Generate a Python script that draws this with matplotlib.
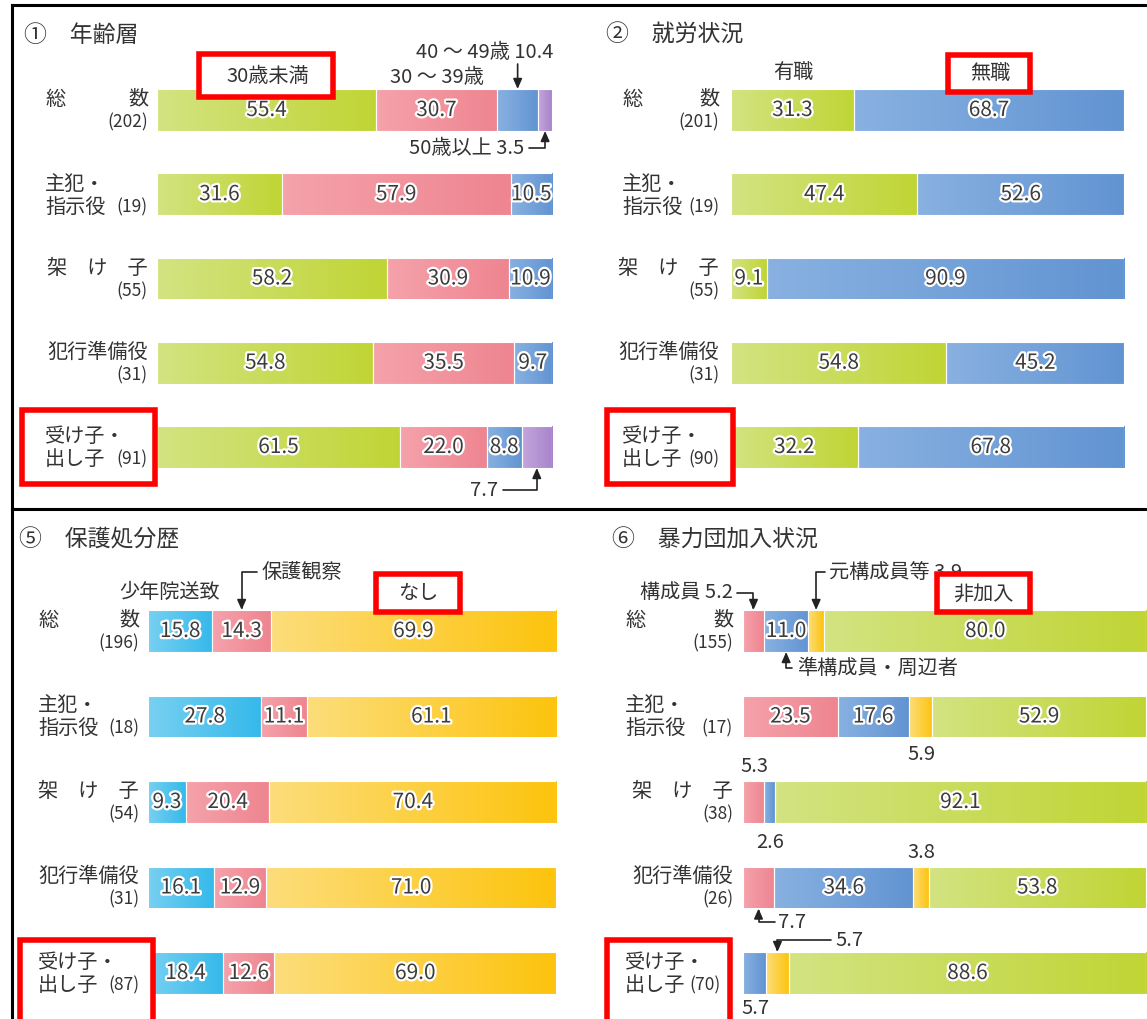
import matplotlib
matplotlib.use('Agg')
import numpy as np
import matplotlib.pyplot as plt
import matplotlib.patheffects as pe
from matplotlib.patches import Rectangle
from matplotlib.colors import LinearSegmentedColormap
from matplotlib.transforms import blended_transform_factory

plt.rcParams['font.family'] = ['Noto Sans CJK JP', 'DejaVu Sans']

# ---------------- data ----------------
rows_line1 = ['総', '主犯・', '架　け　子', '犯行準備役', '受け子・']
rows_line2 = ['', '指示役', '', '', '出し子']

age_n = [202, 19, 55, 31, 91]
age_u30 = [55.4, 31.6, 58.2, 54.8, 61.5]
age_30s = [30.7, 57.9, 30.9, 35.5, 22.0]
age_40s = [10.4, 10.5, 10.9, 9.7, 8.8]
age_50p = [3.5, 0, 0, 0, 7.7]
age_cats = ['30歳未満', '30 ～ 39歳', '40 ～ 49歳', '50歳以上']

job_n = [201, 19, 55, 31, 90]
job_yes = [31.3, 47.4, 9.1, 54.8, 32.2]
job_no = [68.7, 52.6, 90.9, 45.2, 67.8]
job_cats = ['有職', '無職']

prot_n = [196, 18, 54, 31, 87]
prot_in = [15.8, 27.8, 9.3, 16.1, 18.4]
prot_obs = [14.3, 11.1, 20.4, 12.9, 12.6]
prot_none = [69.9, 61.1, 70.4, 71.0, 69.0]
prot_cats = ['少年院送致', '保護観察', 'なし']

gang_n = [155, 17, 38, 26, 70]
gang_mem = [5.2, 23.5, 5.3, 7.7, 0]
gang_assoc = [11.0, 17.6, 2.6, 34.6, 5.7]
gang_former = [3.9, 5.9, 0, 3.8, 5.7]
gang_none = [80.0, 52.9, 92.1, 53.8, 88.6]
gang_cats = ['構成員', '準構成員・周辺者', '元構成員等', '非加入']

titles = ['①　年齢層', '②　就労状況', '⑤　保護処分歴', '⑥　暴力団加入状況']

# (light, dark) gradient pairs
GREEN = ('#d3e381', '#c0d535')
PINK = ('#f5a2ab', '#ee8590')
BLUE = ('#88b1e1', '#6294d2')
PURPLE = ('#c4a5dc', '#a985cb')
CYAN = ('#78d0f1', '#35b9ea')
YELLOW = ('#fddd7a', '#fcc40e')
TXT = '#333333'
VAL = '#3c3c3c'

W, H = 1147, 1019
fig = plt.figure(figsize=(W / 100, H / 100), dpi=100)

ov = fig.add_axes([0, 0, 1, 1])
ov.set_xlim(0, W)
ov.set_ylim(H, 0)
ov.axis('off')
ov.set_zorder(10)

halo = [pe.withStroke(linewidth=3.2, foreground='white')]
LFS = 14.5   # row label font size
NFS = 12.5   # count font size
AFS = 14.5   # annotation font size
grad = np.linspace(0, 1, 64).reshape(1, -1)


def bar_axes(x0, x1, yc0, sp):
    top = yc0 - sp / 2
    h = 5 * sp
    ax = fig.add_axes([x0 / W, 1 - (top + h) / H, (x1 - x0) / W, h / H])
    ax.axis('off')
    return ax


def draw_panel(ax, series, colors, bh, outside):
    n = len(series[0])
    lefts = [0.0] * n
    for s, (vals, col) in enumerate(zip(series, colors)):
        cmap = LinearSegmentedColormap.from_list('g', list(col))
        bars = ax.barh(range(n), vals, left=lefts, height=bh, color=col[1],
                       edgecolor='white', linewidth=0.8, zorder=2)
        for p in bars:
            if p.get_width() <= 0:
                continue
            x0, y0 = p.get_x(), p.get_y()
            im = ax.imshow(grad, cmap=cmap, aspect='auto', zorder=2.5,
                           extent=[x0, x0 + p.get_width(), y0 + p.get_height(), y0],
                           interpolation='bilinear')
            im.set_clip_path(p)
            p.set_facecolor('none')
            p.set_zorder(2.6)
        for i, v in enumerate(vals):
            if v > 0 and (i, s) not in outside:
                ax.text(lefts[i] + v / 2, i, f'{v:.1f}', ha='center', va='center',
                        fontsize=15, color=VAL, path_effects=halo, zorder=4)
        lefts = [l + v for l, v in zip(lefts, vals)]
    ax.set_xlim(0, 100)
    ax.set_ylim(4.5, -0.5)


def mid(series, i, s):
    return sum(series[k][i] for k in range(s)) + series[s][i] / 2


def label_block(xl, xr, yc, i, n, z=2):
    y1, y2 = yc - 11, yc + 12
    if i == 0:
        ov.text(xl, y1, '総', ha='left', va='center', fontsize=LFS, color=TXT, zorder=z)
        ov.text(xr, y1, '数', ha='right', va='center', fontsize=LFS, color=TXT, zorder=z)
    elif rows_line2[i]:
        ov.text(xl, y1, rows_line1[i], ha='left', va='center', fontsize=LFS, color=TXT, zorder=z)
    else:
        ov.text(xr, y1, rows_line1[i], ha='right', va='center', fontsize=LFS, color=TXT, zorder=z)
    if rows_line2[i]:
        ov.text(xl, y2, rows_line2[i], ha='left', va='center', fontsize=LFS, color=TXT, zorder=z)
    ov.text(xr, y2, f'({n})', ha='right', va='center', fontsize=NFS, color=TXT, zorder=z)


def row_labels(xl, xr, centers, ns):
    for i, yc in enumerate(centers):
        label_block(xl, xr, yc, i, ns[i], z=4)


ARW = dict(arrowstyle='-|>,head_length=0.5,head_width=0.22', color='#222222',
           lw=1.2, shrinkA=0, shrinkB=0, mutation_scale=12)


def bent(ax, start, xval, row, side, bh):
    ytip = row - bh / 2 if side == 'top' else row + bh / 2
    ov.annotate('', xy=(xval, ytip), xycoords=ax.transData,
                xytext=start, textcoords=ov.transData,
                arrowprops=dict(ARW, connectionstyle='angle,angleA=0,angleB=90,rad=0'))


def ann(x, y, s, ha='center', z=2):
    ov.text(x, y, s, ha=ha, va='center', fontsize=AFS, color=TXT, zorder=z)


def redbox(x0, y0, x1, y1):
    ov.add_patch(Rectangle((x0, y0), x1 - x0, y1 - y0, facecolor='white',
                           edgecolor='#ff0000', linewidth=4, zorder=3))


# ---------- borders ----------
ov.plot([12, 12], [5, H], color='black', lw=2.2)
ov.plot([12, W], [5, 5], color='black', lw=2.2)
ov.plot([12, W], [509, 509], color='black', lw=2.2)

top_c = [110, 195, 279, 363, 447]
bot_c = [631, 716, 802, 887, 973]
bh_t = 42 / 84.25
bh_b = 42 / 85.5

# ---------- panel 1: age ----------
ax1 = bar_axes(157, 552, 110, 84.25)
s1 = [age_u30, age_30s, age_40s, age_50p]
draw_panel(ax1, s1, [GREEN, PINK, BLUE, PURPLE], bh_t, {(0, 2), (0, 3), (4, 3)})
ov.text(24, 35, titles[0], ha='left', va='center', fontsize=16.5, color=TXT)
redbox(22, 410, 155, 484)
row_labels(45, 148, top_c, age_n)
redbox(199, 54, 333, 97)
ann(268, 76, age_cats[0], z=4)
ann(437, 77, age_cats[1])
ann(553, 52, f'{age_cats[2]} {age_40s[0]}', ha='right')
ov.annotate('', xy=(mid(s1, 0, 2), 0 - bh_t / 2), xycoords=ax1.transData,
            xytext=(mid(s1, 0, 2), 64),
            textcoords=blended_transform_factory(ax1.transData, ov.transData),
            arrowprops=ARW)
ann(524, 148, f'{age_cats[3]} {age_50p[0]}', ha='right')
bent(ax1, (529, 148), mid(s1, 0, 3), 0, 'bottom', bh_t)
ann(498, 490, f'{age_50p[4]}', ha='right')
bent(ax1, (503, 490), mid(s1, 4, 3), 4, 'bottom', bh_t)

# ---------- panel 2: employment ----------
ax2 = bar_axes(731, 1124, 110, 84.25)
s2 = [job_yes, job_no]
draw_panel(ax2, s2, [GREEN, BLUE], bh_t, set())
ov.text(606, 35, titles[1], ha='left', va='center', fontsize=16.5, color=TXT)
redbox(607, 410, 733, 484)
row_labels(622, 719, top_c, job_n)
ann(793, 72, job_cats[0])
redbox(948, 55, 1030, 92)
ann(990, 73, job_cats[1], z=4)

# ---------- panel 5: protection ----------
ax3 = bar_axes(148, 556, 631, 85.5)
s3 = [prot_in, prot_obs, prot_none]
draw_panel(ax3, s3, [CYAN, PINK, YELLOW], bh_b, set())
ov.text(19, 540, titles[2], ha='left', va='center', fontsize=16.5, color=TXT)
redbox(20, 940, 153, 1030)
row_labels(38, 139, bot_c, prot_n)
ann(170, 592, prot_cats[0])
ann(262, 572, prot_cats[1], ha='left')
bent(ax3, (257, 572), mid(s3, 0, 1), 0, 'top', bh_b)
redbox(376, 574, 460, 612)
ann(418, 594, prot_cats[2], z=4)

# ---------- panel 6: gang ----------
ax4 = bar_axes(743, 1146, 631, 85.5)
s4 = [gang_mem, gang_assoc, gang_former, gang_none]
out4 = {(0, 0), (0, 2), (1, 2), (2, 0), (2, 1), (3, 0), (3, 2), (4, 1), (4, 2)}
draw_panel(ax4, s4, [PINK, BLUE, YELLOW, GREEN], bh_b, out4)
ov.text(612, 540, titles[3], ha='left', va='center', fontsize=16.5, color=TXT)
redbox(607, 940, 730, 1030)
row_labels(625, 733, bot_c[:4], gang_n[:4])
label_block(625, 721, bot_c[4], 4, gang_n[4], z=4)
ann(733, 593, f'{gang_cats[0]} {gang_mem[0]}', ha='right')
bent(ax4, (737, 593), mid(s4, 0, 0), 0, 'top', bh_b)
ann(829, 572, f'{gang_cats[2]} {gang_former[0]}', ha='left')
bent(ax4, (825, 572), mid(s4, 0, 2), 0, 'top', bh_b)
redbox(937, 574, 1030, 612)
ann(983, 594, gang_cats[3], z=4)
ann(797, 668, gang_cats[1], ha='left')
bent(ax4, (792, 668), mid(s4, 0, 1), 0, 'bottom', bh_b)
ann(921, 755, f'{gang_former[1]}')
ann(754, 767, f'{gang_mem[2]}')
ann(770, 842, f'{gang_assoc[2]}')
ann(921, 852, f'{gang_former[3]}')
ann(778, 922, f'{gang_mem[3]}', ha='left')
bent(ax4, (775, 922), mid(s4, 3, 0), 3, 'bottom', bh_b)
ann(835, 940, f'{gang_former[4]}', ha='left')
bent(ax4, (831, 940), mid(s4, 4, 2), 4, 'top', bh_b)
ann(755, 1008, f'{gang_assoc[4]}')

fig.savefig('out.png', dpi=100)
